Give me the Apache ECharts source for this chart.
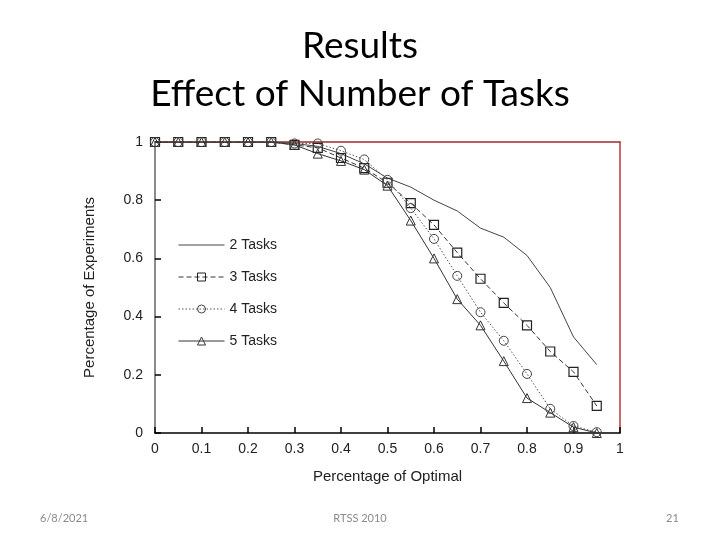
<!DOCTYPE html>
<html>
<head>
<meta charset="utf-8">
<script src="https://cdn.jsdelivr.net/npm/echarts@6/dist/echarts.min.js"></script>
<style>html,body{margin:0;padding:0;background:#fff}#c{width:720px;height:540px}</style>
</head>
<body>
<div id="c"></div>
<script>
const xValues = [0,0.05,0.1,0.15,0.2,0.25,0.3,0.35,0.4,0.45,0.5,0.55,0.6,0.65,0.7,0.75,0.8,0.85,0.9,0.95];
const tasks2 = [1,1,1,1,1,1,0.995,0.985,0.96,0.925,0.876,0.845,0.80,0.763,0.704,0.673,0.61,0.5,0.33,0.235];
const tasks3 = [1,1,1,1,1,1,0.99,0.98,0.945,0.91,0.86,0.79,0.715,0.62,0.53,0.447,0.37,0.28,0.21,0.093];
const tasks4 = [1,1,1,1,1,1,0.995,0.995,0.97,0.94,0.87,0.773,0.667,0.54,0.415,0.317,0.203,0.083,0.024,0.003];
const tasks5 = [1,1,1,1,1,1,0.99,0.96,0.935,0.905,0.85,0.73,0.60,0.46,0.37,0.247,0.12,0.07,0.02,0.0];
const seriesNames = ['2 Tasks','3 Tasks','4 Tasks','5 Tasks'];
const titleLines = ['Results','Effect of Number of Tasks'];
const footer = ['6/8/2021','RTSS 2010','21'];

const pairs = arr => xValues.map((x,i)=>[x,arr[i]]);
const font = 'Liberation Sans, Arial, sans-serif';
const chart = echarts.init(document.getElementById('c'));
chart.setOption({
  animation:false,
  backgroundColor:'#fff',
  title:[
    {text:titleLines.join('\n'), left:'center', top:17, textStyle:{fontFamily:'Lato, Open Sans, sans-serif', fontWeight:'normal', fontSize:37, color:'#000', lineHeight:48}},
    {text:footer[0], left:35, top:508, textStyle:{fontFamily:'Lato, sans-serif', fontWeight:'normal', fontSize:11, color:'#8a8a8a'}},
    {text:footer[1], left:'center', top:508, textStyle:{fontFamily:'Lato, sans-serif', fontWeight:'normal', fontSize:11, color:'#8a8a8a'}},
    {text:footer[2], left:661, top:508, textStyle:{fontFamily:'Lato, sans-serif', fontWeight:'normal', fontSize:11, color:'#8a8a8a'}}
  ],
  grid:{left:155, right:100, top:142, bottom:107},
  legend:{
    orient:'vertical', left:173, top:233, itemWidth:46, itemHeight:10, itemGap:18,
    textStyle:{fontFamily:font, fontSize:14, color:'#222'},
    lineStyle:{width:1},
    data:[
      {name:seriesNames[0], itemStyle:{color:'rgba(0,0,0,0)', borderWidth:0}},
      {name:seriesNames[1], itemStyle:{borderWidth:1}},
      {name:seriesNames[2], itemStyle:{borderWidth:1}},
      {name:seriesNames[3], itemStyle:{borderWidth:1}}
    ]
  },
  xAxis:[
    {type:'value', min:0, max:1, interval:0.1,
     name:'Percentage of Optimal', nameLocation:'middle', nameGap:36,
     nameTextStyle:{fontFamily:font, fontSize:15, color:'#222'},
     axisLine:{onZero:false, lineStyle:{color:'#000', width:1.5}},
     axisTick:{inside:true, length:6, lineStyle:{color:'#000', width:1.5}},
     axisLabel:{fontFamily:font, fontSize:14, color:'#222', margin:9},
     splitLine:{show:false}},
    {type:'value', min:0, max:1, position:'top',
     axisLine:{onZero:false, lineStyle:{color:'#9e2b2b', width:1.5}},
     axisTick:{show:false}, axisLabel:{show:false}, splitLine:{show:false}}
  ],
  yAxis:[
    {type:'value', min:0, max:1, interval:0.2,
     name:'Percentage of Experiments', nameLocation:'middle', nameGap:58,
     nameTextStyle:{fontFamily:font, fontSize:15, color:'#222'},
     axisLine:{onZero:false, lineStyle:{color:'#8a8a8a', width:2}},
     axisTick:{inside:true, length:6, lineStyle:{color:'#000', width:1.5}},
     axisLabel:{fontFamily:font, fontSize:14, color:'#222', margin:12},
     splitLine:{show:false}},
    {type:'value', min:0, max:1, position:'right',
     axisLine:{onZero:false, lineStyle:{color:'#b83a3a', width:1.5}},
     axisTick:{show:false}, axisLabel:{show:false}, splitLine:{show:false}}
  ],
  series:[
    {name:seriesNames[0], type:'line', data:pairs(tasks2), symbol:'none',
     lineStyle:{color:'#444', width:1, type:'solid'}, itemStyle:{color:'#444'}},
    {name:seriesNames[1], type:'line', data:pairs(tasks3), symbol:'rect', symbolSize:9,
     lineStyle:{color:'#333', width:1, type:[5,3]},
     itemStyle:{color:'rgba(0,0,0,0)', borderColor:'#222', borderWidth:1.2}},
    {name:seriesNames[2], type:'line', data:pairs(tasks4), symbol:'circle', symbolSize:9,
     lineStyle:{color:'#555', width:1, type:[1.5,2]},
     itemStyle:{color:'rgba(0,0,0,0)', borderColor:'#444', borderWidth:1}},
    {name:seriesNames[3], type:'line', data:pairs(tasks5), symbol:'triangle', symbolSize:9,
     lineStyle:{color:'#333', width:1, type:'solid'},
     itemStyle:{color:'rgba(0,0,0,0)', borderColor:'#333', borderWidth:1}}
  ]
});
</script>
</body>
</html>
